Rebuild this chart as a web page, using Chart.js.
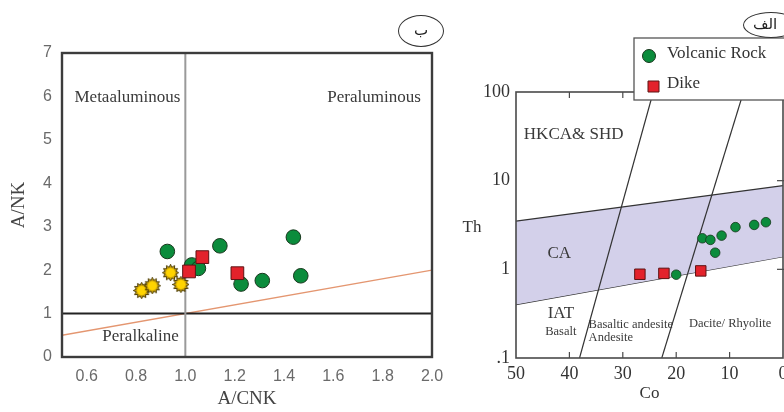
<!DOCTYPE html>
<html>
<head>
<meta charset="utf-8">
<script src="https://cdn.jsdelivr.net/npm/chart.js@4.4.1/dist/chart.umd.min.js"></script>
<style>
  body { margin: 0; background: #fff; width: 784px; height: 412px; overflow: hidden; position: relative; }
  #leftWrap { position: absolute; left: 0; top: 0; width: 450px; height: 412px; }
  #rightWrap { position: absolute; left: 450px; top: 0; width: 350px; height: 412px; }
  .tag { position: absolute; border: 1.3px solid #333; border-radius: 50%; font-family: "DejaVu Sans"; font-size: 15px; color: #222; text-align: center; box-sizing: border-box; }
</style>
</head>
<body>
<div id="leftWrap"><canvas id="chartLeft" width="450" height="412"></canvas></div>
<div id="rightWrap"><canvas id="chartRight" width="350" height="412"></canvas></div>
<div class="tag" style="left:398px;top:15px;width:46px;height:32px;line-height:28px;">ب</div>
<div class="tag" style="left:743px;top:12px;width:56px;height:26px;line-height:22px;text-align:left;padding-left:9px;">الف</div>
<script>
// ---- left panel: A/CNK vs A/NK ----
const volcanicACNK = [0.927, 1.026, 1.053, 1.14, 1.438, 1.226, 1.312, 1.468];
const volcanicANK  = [2.43, 2.12, 2.04, 2.56, 2.76, 1.68, 1.76, 1.87];
const dikeACNK = [1.015, 1.069, 1.211];
const dikeANK  = [1.97, 2.30, 1.93];
const starACNK = [0.823, 0.866, 0.94, 0.982];
const starANK  = [1.53, 1.64, 1.94, 1.67];
const acnkTicks = [0.6, 0.8, 1.0, 1.2, 1.4, 1.6, 1.8, 2.0];
// boundary lines
const metaLineX = [1.0, 1.0];
const metaLineY = [0, 7];
const alkLineX = [0.5, 2.0];
const alkLineY = [1, 1];
const oneToOneX = [0.5, 2.0];
const oneToOneY = [0.5, 2.0];
const leftFieldNames = ['Metaaluminous', 'Peraluminous', 'Peralkaline'];
const leftFieldX = [0.765, 1.765, 0.818];
const leftFieldY = [5.97, 5.97, 0.48];

// ---- right panel: Co vs Th ----
const rockCo = [20.0, 15.1, 13.6, 11.5, 12.7, 8.9, 5.4, 3.2];
const rockTh = [0.87, 2.24, 2.15, 2.40, 1.54, 2.99, 3.17, 3.40];
const dikeCo = [26.8, 22.3, 15.4];
const dikeTh = [0.88, 0.90, 0.96];
const coTicks = [50, 40, 30, 20, 10, 0];
const thTicks = [0.1, 1, 10, 100];
const thTickLabels = ['.1', '1', '10', '100'];
const caUpperCo = [50, 0];
const caUpperTh = [3.5, 8.8];
const caLowerCo = [50, 0];
const caLowerTh = [0.4, 1.39];
const basaltLineCo = [38.1, 24.3];
const basaltLineTh = [0.1, 100];
const daciteLineCo = [22.7, 7.4];
const daciteLineTh = [0.1, 100];
const bigFieldNames = ['HKCA& SHD', 'CA', 'IAT'];
const bigFieldCo = [39.2, 41.9, 41.6];
const bigFieldTh = [32.9, 1.49, 0.32];
const smallFieldNames = ['Basalt', 'Dacite/ Rhyolite'];
const smallFieldCo = [41.6, 9.9];
const smallFieldTh = [0.198, 0.242];
const leftAlignNames = ['Basaltic andesite', 'Andesite'];
const leftAlignCo = [36.4, 36.4];
const leftAlignTh = [0.236, 0.171];

const SERIF = '"Liberation Serif", "Times New Roman", serif';
const SANS = '"Liberation Sans", Arial, sans-serif';

function zip(xs, ys) {
  return xs.map((v, i) => ({ x: v, y: ys[i] }));
}

function sunMarker() {
  const c = document.createElement('canvas');
  c.width = 17; c.height = 17;
  const g = c.getContext('2d');
  g.beginPath();
  for (let i = 0; i < 24; i++) {
    const r = i % 2 ? 5.6 : 8.2;
    const a = i * Math.PI / 12;
    g.lineTo(8.5 + r * Math.cos(a), 8.5 + r * Math.sin(a));
  }
  g.closePath();
  g.fillStyle = '#c9a10a';
  g.fill();
  g.strokeStyle = '#4d3d05';
  g.lineWidth = 1;
  g.stroke();
  g.beginPath();
  g.arc(8.5, 8.5, 4.6, 0, Math.PI * 2);
  g.fillStyle = '#ffd400';
  g.fill();
  return c;
}

function frameAndText(items, tickMarks) {
  return {
    id: 'frameAndText',
    afterDatasetsDraw(chart, args, opts) {
      const { ctx, chartArea: a, scales: { x, y } } = chart;
      ctx.save();
      items.forEach(t => {
        ctx.font = t.font;
        ctx.fillStyle = '#3a3a3a';
        ctx.textAlign = t.align || 'center';
        ctx.textBaseline = 'middle';
        ctx.fillText(t.text, x.getPixelForValue(t.x), y.getPixelForValue(t.y));
      });
      ctx.strokeStyle = opts.color;
      ctx.lineWidth = opts.width;
      if (tickMarks) {
        ctx.lineWidth = 1.2;
        x.ticks.forEach(tk => {
          const px = x.getPixelForValue(tk.value);
          if (px < a.left + 2 || px > a.right - 2) return;
          ctx.beginPath();
          ctx.moveTo(px, a.bottom); ctx.lineTo(px, a.bottom - 6);
          ctx.moveTo(px, a.top); ctx.lineTo(px, a.top + 6);
          ctx.stroke();
        });
        y.ticks.forEach(tk => {
          const py = y.getPixelForValue(tk.value);
          if (py < a.top + 2 || py > a.bottom - 2) return;
          ctx.beginPath();
          ctx.moveTo(a.right - 6, py); ctx.lineTo(a.right + 6, py);
          ctx.stroke();
        });
        ctx.lineWidth = opts.width;
      }
      ctx.strokeRect(a.left, a.top, a.right - a.left, a.bottom - a.top);
      ctx.restore();
    }
  };
}

const leftItems = leftFieldNames.map((n, i) => ({ text: n, x: leftFieldX[i], y: leftFieldY[i], font: '17px ' + SERIF }));

new Chart(document.getElementById('chartLeft'), {
  type: 'line',
  data: {
    datasets: [
      { label: 'Dike', data: zip(dikeACNK, dikeANK), showLine: false, pointStyle: 'rect', pointRadius: 9,
        backgroundColor: '#e3222b', borderColor: '#5c1414', borderWidth: 1, order: 0 },
      { label: 'Volcanic Rock', data: zip(volcanicACNK, volcanicANK), showLine: false, pointStyle: 'circle', pointRadius: 7.3,
        backgroundColor: '#0b8c3c', borderColor: '#17361c', borderWidth: 1, order: 1 },
      { label: 'Other', data: zip(starACNK, starANK), showLine: false, pointStyle: sunMarker(), order: 1 },
      { data: zip(metaLineX, metaLineY), borderColor: '#9a9a9a', borderWidth: 2, pointRadius: 0, order: 3 },
      { data: zip(alkLineX, alkLineY), borderColor: '#222', borderWidth: 2, pointRadius: 0, order: 3 },
      { data: zip(oneToOneX, oneToOneY), borderColor: '#e49670', borderWidth: 1.4, pointRadius: 0, order: 3 }
    ]
  },
  options: {
    animation: false,
    responsive: false,
    layout: { padding: { top: 53, right: 18, left: 0, bottom: 0 } },
    plugins: { legend: { display: false }, tooltip: { enabled: false }, frameAndText: { color: '#3c3c3c', width: 2.4 } },
    scales: {
      x: {
        type: 'linear', min: 0.5, max: 2.0,
        grid: { display: false, drawTicks: false }, border: { display: false },
        afterBuildTicks: s => { s.ticks = acnkTicks.map(v => ({ value: v })); },
        afterFit: s => { s.height = 55; s.paddingLeft = 0; s.paddingRight = 0; },
        ticks: { padding: 10, color: '#6a6a6a', font: { family: SANS, size: 16 }, callback: v => Number(v).toFixed(1) },
        title: { display: true, text: 'A/CNK', color: '#444', font: { family: SERIF, size: 19 }, padding: { top: 0, bottom: 2 } }
      },
      y: {
        min: 0, max: 7,
        grid: { display: false, drawTicks: false }, border: { display: false },
        afterFit: s => { s.width = 62; s.paddingTop = 0; s.paddingBottom = 0; },
        ticks: { stepSize: 1, padding: 10, color: '#6a6a6a', font: { family: SANS, size: 16 } },
        title: { display: true, text: 'A/NK', color: '#444', font: { family: SERIF, size: 19 }, padding: { top: 8, bottom: 0 } }
      }
    }
  },
  plugins: [frameAndText(leftItems, false)]
});

// right panel
const rightItems = []
  .concat(bigFieldNames.map((n, i) => ({ text: n, x: bigFieldCo[i], y: bigFieldTh[i], font: '17px ' + SERIF })))
  .concat(smallFieldNames.map((n, i) => ({ text: n, x: smallFieldCo[i], y: smallFieldTh[i], font: '12.5px ' + SERIF })))
  .concat(leftAlignNames.map((n, i) => ({ text: n, x: leftAlignCo[i], y: leftAlignTh[i], font: '12.5px ' + SERIF, align: 'left' })));

const legendBox = {
  id: 'legendBox',
  afterDraw(chart) {
    const { ctx, chartArea: a } = chart;
    const ds = chart.data.datasets;
    ctx.save();
    // "Th" axis title, horizontal
    ctx.font = '17px ' + SERIF;
    ctx.fillStyle = '#333';
    ctx.textAlign = 'center';
    ctx.textBaseline = 'middle';
    ctx.fillText('Th', a.left - 44, (a.top + a.bottom) / 2 + 3);
    // legend box
    const bx = 184, by = 38;
    ctx.fillStyle = '#fff';
    ctx.fillRect(bx, by, 170, 62);
    ctx.strokeStyle = '#555';
    ctx.lineWidth = 1.3;
    ctx.strokeRect(bx, by, 170, 62);
    ctx.textAlign = 'left';
    ctx.font = '17px ' + SERIF;
    [ds[0], ds[1]].forEach((d, i) => {
      const cy = by + 18 + i * 30;
      ctx.beginPath();
      if (d.pointStyle === 'circle') {
        ctx.arc(bx + 15, cy, 6.5, 0, Math.PI * 2);
      } else {
        ctx.rect(bx + 14, cy - 5, 11, 11);
      }
      ctx.fillStyle = d.backgroundColor;
      ctx.fill();
      ctx.strokeStyle = d.borderColor;
      ctx.lineWidth = 1;
      ctx.stroke();
      ctx.fillStyle = '#333';
      ctx.fillText(d.label, bx + 33, cy - 2);
    });
    ctx.restore();
  }
};

new Chart(document.getElementById('chartRight'), {
  type: 'line',
  data: {
    datasets: [
      { label: 'Volcanic Rock', data: zip(rockCo, rockTh), showLine: false, pointStyle: 'circle', pointRadius: 4.8,
        backgroundColor: '#0b8c3c', borderColor: '#17361c', borderWidth: 0.8, order: 1 },
      { label: 'Dike', data: zip(dikeCo, dikeTh), showLine: false, pointStyle: 'rect', pointRadius: 7.4,
        backgroundColor: '#e3222b', borderColor: '#5c1414', borderWidth: 1, order: 0 },
      { data: zip(caUpperCo, caUpperTh), borderColor: '#333', borderWidth: 1.2, pointRadius: 0,
        fill: '+1', backgroundColor: '#d3d0ea', order: 4 },
      { data: zip(caLowerCo, caLowerTh), borderColor: '#333', borderWidth: 1.2, pointRadius: 0, order: 4 },
      { data: zip(basaltLineCo, basaltLineTh), borderColor: '#333', borderWidth: 1.2, pointRadius: 0, order: 3 },
      { data: zip(daciteLineCo, daciteLineTh), borderColor: '#333', borderWidth: 1.2, pointRadius: 0, order: 3 }
    ]
  },
  options: {
    animation: false,
    responsive: false,
    layout: { padding: { top: 92, right: 17, left: 0, bottom: 0 } },
    plugins: { legend: { display: false }, tooltip: { enabled: false }, frameAndText: { color: '#4a4a4a', width: 1.6 } },
    scales: {
      x: {
        type: 'linear', reverse: true, min: 0, max: 50,
        grid: { display: false, drawTicks: false }, border: { display: false },
        afterBuildTicks: s => { s.ticks = coTicks.map(v => ({ value: v })); },
        afterFit: s => { s.height = 54; },
        ticks: { padding: 5, color: '#333', font: { family: SERIF, size: 18 } },
        title: { display: true, text: 'Co', color: '#333', font: { family: SERIF, size: 17 }, padding: { top: 0, bottom: 8 } }
      },
      y: {
        type: 'logarithmic', min: 0.1, max: 100,
        grid: { display: false, drawTicks: false }, border: { display: false },
        afterBuildTicks: s => { s.ticks = thTicks.map(v => ({ value: v })); },
        afterFit: s => { s.width = 66; },
        ticks: { padding: 6, color: '#333', font: { family: SERIF, size: 18 }, callback: (v, i) => thTickLabels[i] }
      }
    }
  },
  plugins: [frameAndText(rightItems, true), legendBox]
});
</script>
</body>
</html>
